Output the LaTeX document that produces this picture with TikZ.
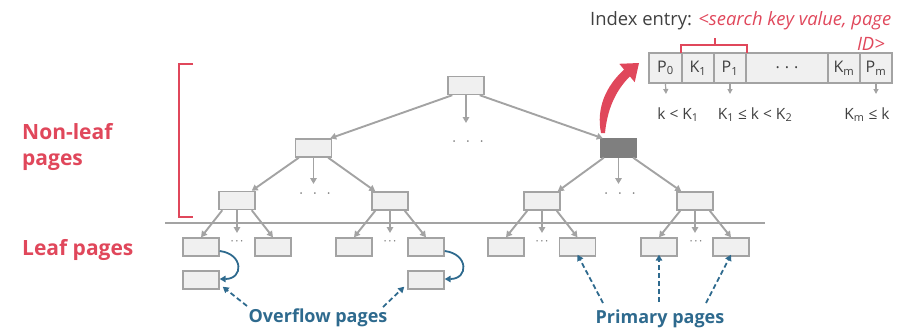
\documentclass[tikz,border=0pt]{standalone}
\usepackage{fontspec}
\setmainfont{Open Sans}
\usetikzlibrary{arrows.meta,calc}
\definecolor{boxfill}{HTML}{F0F0F0}
\definecolor{boxline}{HTML}{A3A3A3}
\definecolor{darkpage}{HTML}{7F7F7F}
\definecolor{accent}{HTML}{E0475B}
\definecolor{note}{HTML}{2E6A8E}
\definecolor{ink}{HTML}{404040}
\newcommand{\fs}[1]{\fontsize{#1}{#1}\selectfont}
\begin{document}
\begin{tikzpicture}[x=1pt,y=-1pt,
  page/.style={draw=boxline,fill=boxfill,line width=1.4pt,minimum width=36pt,minimum height=18pt,inner sep=0pt},
  hotpage/.style={page,draw=darkpage,fill=darkpage},
  cell/.style={draw=boxline,fill=boxfill,line width=1.8pt,minimum height=30pt,inner sep=0pt,text=ink,font=\fs{16}},
  edge/.style={draw=boxline,line width=1.9pt,-{Triangle[length=6pt,width=6.5pt]}},
  dots/.style={text=darkpage,inner sep=0pt,font=\fs{14}},
  side/.style={text=accent,font=\fontsize{21}{26}\selectfont\bfseries,inner sep=0pt,anchor=base west,align=left},
  callout/.style={text=note,font=\fs{18}\bfseries,inner sep=0pt,anchor=base},
  pointer/.style={draw=note,line width=1.8pt,dash pattern=on 5pt off 3pt,-{Triangle[length=6pt,width=6.5pt]}},
  chainarrow/.style={draw=note,line width=1.8pt,-{Triangle[length=6pt,width=6.5pt]}},
  rangelabel/.style={text=ink,font=\fs{15.5},inner sep=0pt,anchor=base}]
\useasboundingbox (0,0) rectangle (906,330);

% side labels and bracket
\node[side] (nonleaf) at (22,165) {Non-leaf\\pages};
\node[side] (leaf) at (22,255) {Leaf pages};
\draw[accent,line width=1.8pt] (193,64) -- (179,64) -- (179,217) -- (193,217);

% separator between inner and leaf levels
\draw[boxline,line width=2pt] (165,223) -- (765,223);

% inner pages
\node[page] (root) at (466,85.5) {};
\node[page] (l2a) at (313.5,148) {};
\node[hotpage] (l2b) at (618.5,148) {};
\node[page] (l3a) at (237,200.5) {};
\node[page] (l3b) at (390,201) {};
\node[page] (l3c) at (542,201) {};
\node[page] (l3d) at (695,201) {};

% leaf pages
\node[page] (la1) at (201,247) {};
\node[page] (la2) at (273,247) {};
\node[page] (lb1) at (354,247) {};
\node[page] (lb2) at (426,247) {};
\node[page] (lc1) at (506,247) {};
\node[page] (lc2) at (577.5,247) {};
\node[page] (ld1) at (659,247) {};
\node[page] (ld2) at (731,247) {};

% overflow pages
\node[page] (oa) at (201,280) {};
\node[page] (ob) at (426,280) {};

% ellipses
\node[dots] (d1) at (468,144) {·\hspace{10pt}·\hspace{10pt}·};
\node[dots] (d2) at (315,196) {·\hspace{10pt}·\hspace{10pt}·};
\node[dots] (d3) at (620,196) {·\hspace{10pt}·\hspace{10pt}·};
\node[dots,font=\fs{12}] (e1) at (237,243) {·\hspace{1.5pt}·\hspace{1.5pt}·};
\node[dots,font=\fs{12}] (e2) at (390,243) {·\hspace{1.5pt}·\hspace{1.5pt}·};
\node[dots,font=\fs{12}] (e3) at (542,243) {·\hspace{1.5pt}·\hspace{1.5pt}·};
\node[dots,font=\fs{12}] (e4) at (696,243) {·\hspace{1.5pt}·\hspace{1.5pt}·};

% open ends of the middle child pointers
\coordinate (m0) at (466,123);
\coordinate (m1) at (313.5,184);
\coordinate (m2) at (618.5,184);
\coordinate (m3) at (237,233);
\coordinate (m4) at (390,233);
\coordinate (m5) at (542,233);
\coordinate (m6) at (695,233);

% child pointers
\draw[edge] ([xshift=5pt]root.south west) -- ([xshift=-2pt]l2a.north east);
\draw[edge] (root.south) -- (m0);
\draw[edge] ([xshift=-5pt]root.south east) -- ([xshift=3pt]l2b.north west);

\draw[edge] ([xshift=4pt]l2a.south west) -- ([xshift=-4pt]l3a.north east);
\draw[edge] (l2a.south) -- (m1);
\draw[edge] ([xshift=-4pt]l2a.south east) -- ([xshift=4pt]l3b.north west);

\draw[edge] ([xshift=4pt]l2b.south west) -- ([xshift=-3pt]l3c.north east);
\draw[edge] (l2b.south) -- (m2);
\draw[edge] ([xshift=-4pt]l2b.south east) -- ([xshift=5pt]l3d.north west);

\draw[edge] ([xshift=4pt]l3a.south west) -- (la1.north);
\draw[edge] (l3a.south) -- (m3);
\draw[edge] ([xshift=-4pt]l3a.south east) -- (la2.north);

\draw[edge] ([xshift=4pt]l3b.south west) -- (lb1.north);
\draw[edge] (l3b.south) -- (m4);
\draw[edge] ([xshift=-4pt]l3b.south east) -- (lb2.north);

\draw[edge] ([xshift=4pt]l3c.south west) -- (lc1.north);
\draw[edge] (l3c.south) -- (m5);
\draw[edge] ([xshift=-4pt]l3c.south east) -- (lc2.north);

\draw[edge] ([xshift=4pt]l3d.south west) -- (ld1.north);
\draw[edge] (l3d.south) -- (m6);
\draw[edge] ([xshift=-4pt]l3d.south east) -- (ld2.north);

% overflow chains
\draw[chainarrow] ([yshift=-4pt]la1.east) .. controls +(24,3) and +(24,0) .. ([yshift=1pt]oa.east);
\draw[chainarrow] ([yshift=-4pt]lb2.east) .. controls +(24,3) and +(24,0) .. ([yshift=1pt]ob.east);

% callouts
\node[callout] (ovl) at (318,322) {Overflow pages};
\node[callout] (pri) at (660,323) {Primary pages};
\coordinate (ov1) at (247,306);
\coordinate (ov2) at (383,307);
\coordinate (pr1) at (603,303);
\coordinate (pr2) at (659,302);
\coordinate (pr3) at (706,303);
\draw[pointer] (ov1) -- ([shift={(3pt,3pt)}]oa.south east);
\draw[pointer] (ov2) -- ([shift={(-3pt,3pt)}]ob.south west);
\draw[pointer] (pr1) -- ([yshift=2pt]lc2.south);
\draw[pointer] (pr2) -- ([yshift=2pt]ld1.south);
\draw[pointer] (pr3) -- ([yshift=2pt]ld2.south);

% index entry layout
\node[inner sep=0pt,anchor=base west,font=\fs{18.4},text=ink] (ie) at (590,25)
  {Index entry: \textcolor{accent}{\itshape <search key value, page}};
\node[inner sep=0pt,anchor=base east,font=\fs{18.4}\itshape,text=accent] (id) at (885,50) {ID>};

\node[cell,minimum width=33pt] (c0) at (665.5,68) {P\textsubscript{0}};
\node[cell,minimum width=32pt] (c1) at (698,68) {K\textsubscript{1}};
\node[cell,minimum width=32pt] (c2) at (730,68) {P\textsubscript{1}};
\node[cell,minimum width=82pt] (c3) at (787,68) {.\hspace{5pt}.\hspace{5pt}.};
\node[cell,minimum width=32pt] (c4) at (844,68) {K\textsubscript{m}};
\node[cell,minimum width=32pt] (c5) at (876,68) {P\textsubscript{m}};

% bracket over one key/pointer pair
\draw[accent,line width=1.5pt] ([yshift=-1pt]c1.north west) -- ++(0,-8) -| ([yshift=-1pt]c2.north east);
\coordinate (bt) at (715,45);
\coordinate (btop) at (715,38);
\draw[accent,line width=1.5pt] (bt) -- (btop);

% key ranges
\coordinate (r0) at (666,94);
\coordinate (r1) at (730,94);
\coordinate (r2) at (876,94);
\draw[edge,line width=1.2pt,-{Triangle[length=5pt,width=5pt]}] (c0.south) -- (r0);
\draw[edge,line width=1.2pt,-{Triangle[length=5pt,width=5pt]}] (c2.south) -- (r1);
\draw[edge,line width=1.2pt,-{Triangle[length=5pt,width=5pt]}] (c5.south) -- (r2);
\node[rangelabel] (k0) at (678,119) {k < K\textsubscript{1}};
\node[rangelabel] (k1) at (755,119) {K\textsubscript{1} ≤ k < K\textsubscript{2}};
\node[rangelabel] (k2) at (867,119) {K\textsubscript{m} ≤ k};

% zoom-in arrow from the highlighted page to its entry layout
\fill[accent] (601,133) .. controls (596,108) and (606,86) .. (624.1,69.6)
  -- (619.3,63.8) -- (639,63) -- (634.7,82.2) -- (629.9,76.4)
  .. controls (614,92) and (607,112) .. (605,133) -- cycle;
\end{tikzpicture}
\end{document}
